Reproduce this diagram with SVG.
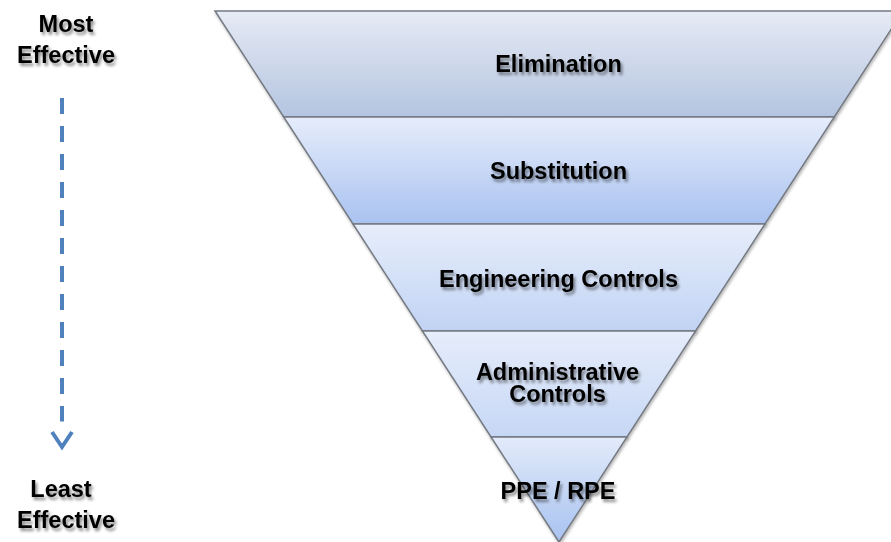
<svg xmlns="http://www.w3.org/2000/svg" width="891" height="542" viewBox="0 0 891 542">
  <defs>
    <linearGradient id="g1" x1="0" y1="0" x2="0" y2="1">
      <stop offset="0" stop-color="#e6ebf5"/>
      <stop offset="1" stop-color="#b4c4e0"/>
    </linearGradient>
    <linearGradient id="g2" x1="0" y1="0" x2="0" y2="1">
      <stop offset="0" stop-color="#e6edfb"/>
      <stop offset="1" stop-color="#a9c2f0"/>
    </linearGradient>
    <linearGradient id="g3" x1="0" y1="0" x2="0" y2="1">
      <stop offset="0" stop-color="#e7eefb"/>
      <stop offset="1" stop-color="#c1d3f4"/>
    </linearGradient>
    <linearGradient id="g4" x1="0" y1="0" x2="0" y2="1">
      <stop offset="0" stop-color="#e6edfb"/>
      <stop offset="1" stop-color="#c6d7f5"/>
    </linearGradient>
    <linearGradient id="g5" x1="0" y1="0" x2="0" y2="1">
      <stop offset="0" stop-color="#e3ebfa"/>
      <stop offset="1" stop-color="#a8c2f0"/>
    </linearGradient>
    <filter id="shapeShadow" x="-5%" y="-5%" width="110%" height="115%">
      <feGaussianBlur in="SourceAlpha" stdDeviation="1.5"/>
      <feOffset dx="1" dy="2" result="b"/>
      <feComponentTransfer><feFuncA type="linear" slope="0.3"/></feComponentTransfer>
      <feMerge><feMergeNode/><feMergeNode in="SourceGraphic"/></feMerge>
    </filter>
    <filter id="textShadow" x="-10%" y="-30%" width="120%" height="160%">
      <feGaussianBlur in="SourceAlpha" stdDeviation="1.6"/>
      <feOffset dx="2" dy="2.5"/>
      <feComponentTransfer><feFuncA type="linear" slope="0.45"/></feComponentTransfer>
      <feMerge><feMergeNode/><feMergeNode in="SourceGraphic"/></feMerge>
    </filter>
  </defs>
  <style>
    .band { stroke: #757a82; stroke-width: 1.5; stroke-linejoin: miter; filter: url(#shapeShadow); }
    .lbl { font-family: "Liberation Sans", Arial, Helvetica, sans-serif; font-weight: bold; font-size: 23.5px; fill: #000; text-anchor: middle; filter: url(#textShadow); }
    .flow { stroke: #4f81bd; stroke-width: 4; fill: none; }
  </style>

  <rect width="891" height="542" fill="#ffffff"/>

  <!-- side captions -->
  <g id="most-effective">
    <text class="lbl" x="66" y="31.5">Most</text>
    <text class="lbl" x="66" y="63">Effective</text>
  </g>
  <g id="least-effective">
    <text class="lbl" x="61" y="496.5">Least</text>
    <text class="lbl" x="66" y="528">Effective</text>
  </g>

  <!-- effectiveness arrow -->
  <g id="connectors">
    <line class="flow" x1="62" y1="98" x2="62" y2="421.5" stroke-dasharray="16 12"/>
    <polyline class="flow" points="52,432 62,447 72,432"/>
  </g>

  <!-- inverted pyramid of control levels -->
  <g id="elimination">
    <polygon class="band" fill="url(#g1)" points="215,11 903,11 834.3,117 283.7,117"/>
    <text class="lbl" x="558.5" y="72">Elimination</text>
  </g>
  <g id="substitution">
    <polygon class="band" fill="url(#g2)" points="283.7,117 834.3,117 765,224 353,224"/>
    <text class="lbl" x="558.5" y="179">Substitution</text>
  </g>
  <g id="engineering-controls">
    <polygon class="band" fill="url(#g3)" points="353,224 765,224 695.6,331 422.4,331"/>
    <text class="lbl" x="558.5" y="286.5">Engineering Controls</text>
  </g>
  <g id="administrative-controls">
    <polygon class="band" fill="url(#g4)" points="422.4,331 695.6,331 627,437 491,437"/>
    <text class="lbl" x="557.5" y="380">Administrative</text>
    <text class="lbl" x="557.5" y="401.5">Controls</text>
  </g>
  <g id="ppe-rpe">
    <polygon class="band" fill="url(#g5)" points="491,437 627,437 559,542"/>
    <text class="lbl" x="558" y="498.5">PPE / RPE</text>
  </g>
</svg>
